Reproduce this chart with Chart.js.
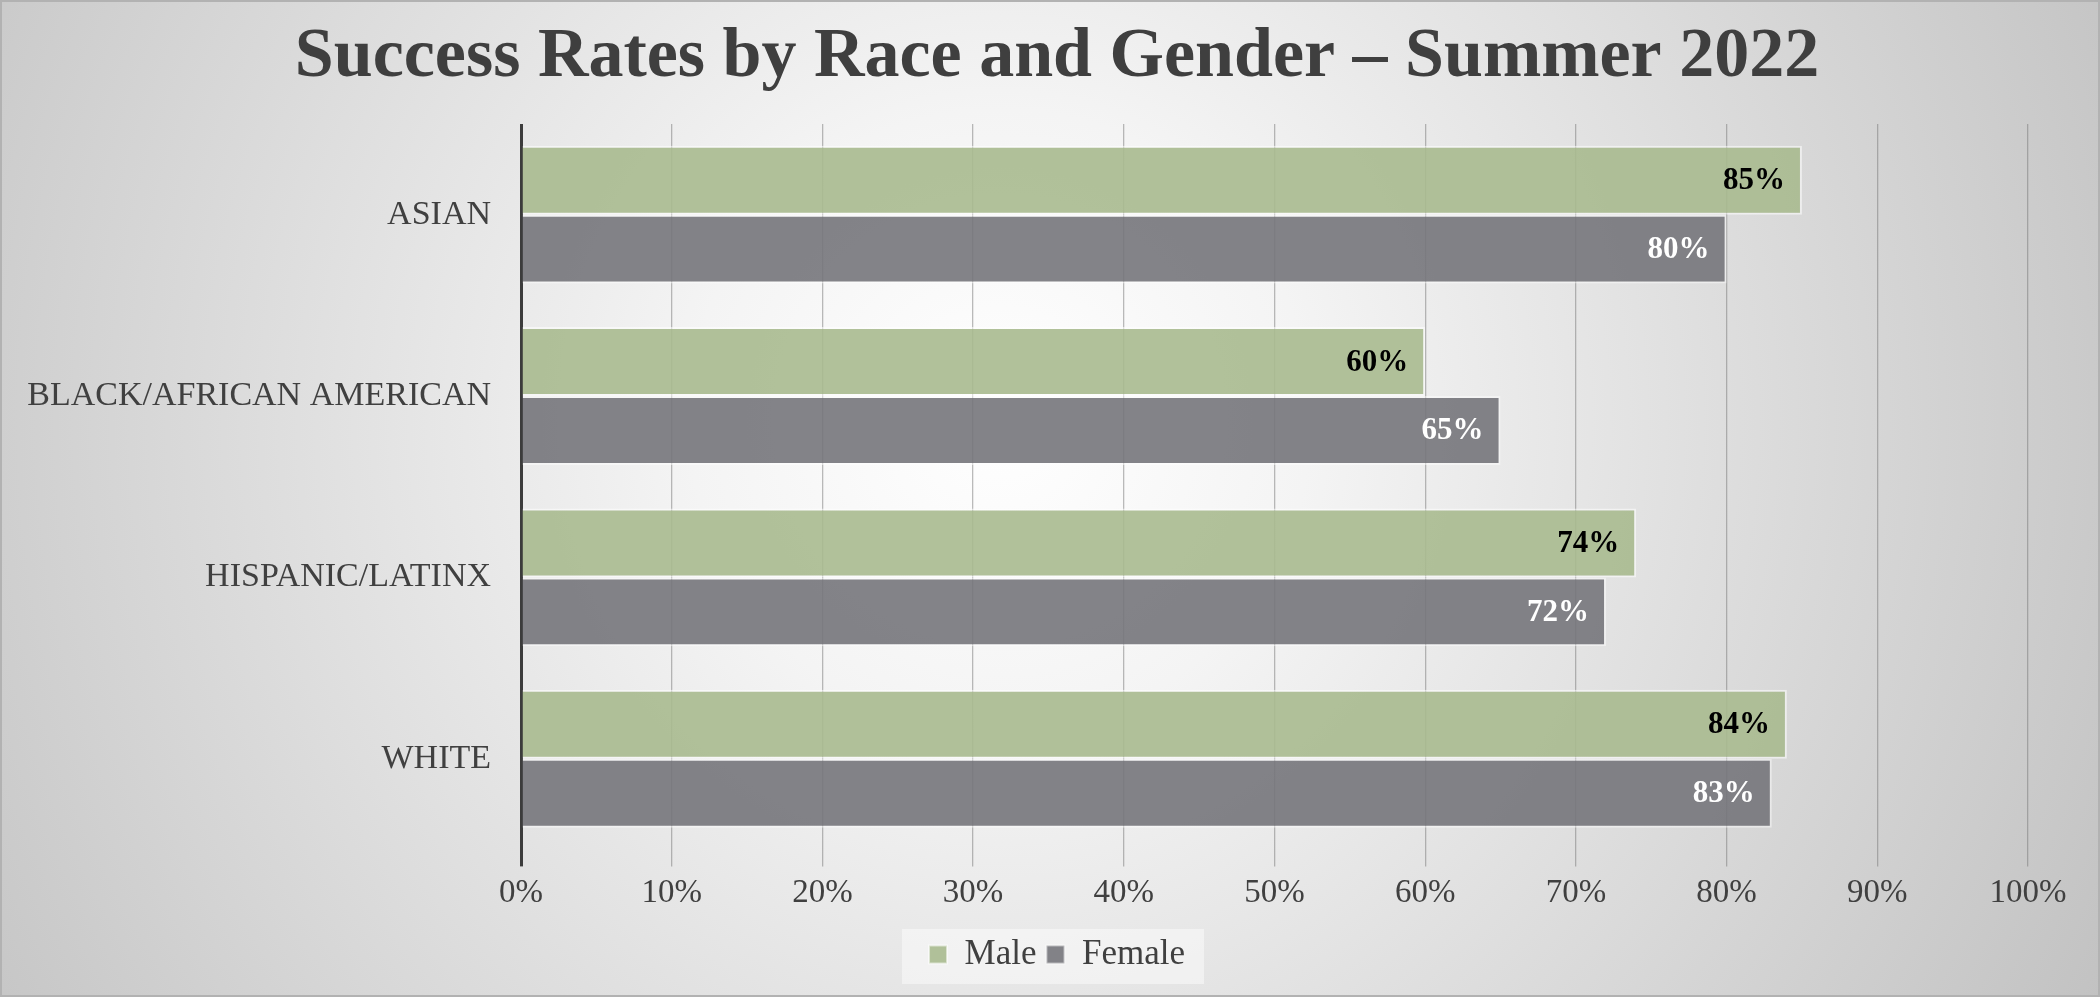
<!DOCTYPE html>
<html>
<head>
<meta charset="utf-8">
<script src="https://cdn.jsdelivr.net/npm/chart.js@4.4.0/dist/chart.umd.min.js"></script>
<style>
  html, body { margin: 0; padding: 0; }
  #wrap {
    width: 2100px;
    height: 997px;
    background: radial-gradient(circle at 1000px 420px, #ffffff 0%, #f4f4f4 25%, #c2c2c2 100%);
  }
</style>
</head>
<body>
<div id="wrap"><canvas id="myChart" width="2100" height="997"></canvas></div>
<script>
const categories = ["ASIAN", "BLACK/AFRICAN AMERICAN", "HISPANIC/LATINX", "WHITE"];
const maleRates = [85, 60, 74, 84];
const femaleRates = [80, 65, 72, 83];
const tickValues = [0, 10, 20, 30, 40, 50, 60, 70, 80, 90, 100];

const serif = "'Liberation Serif', 'DejaVu Serif', serif";

// value labels at the inside end of each bar
const barLabels = {
  id: "barLabels",
  afterDatasetsDraw(chart) {
    const ctx = chart.ctx;
    ctx.save();
    ctx.font = "bold 31px " + serif;
    ctx.textAlign = "right";
    ctx.textBaseline = "middle";
    chart.data.datasets.forEach((ds, i) => {
      const meta = chart.getDatasetMeta(i);
      ctx.fillStyle = i === 0 ? "#000000" : "#ffffff";
      meta.data.forEach((bar, j) => {
        ctx.fillText(ds.data[j] + "%", bar.x - 17, bar.y + 1);
      });
    });
    ctx.restore();
  },
};

// legend backdrop + thin frame
const frame = {
  id: "frame",
  beforeDraw(chart) {
    const ctx = chart.ctx;
    const lg = chart.legend;
    ctx.save();
    ctx.fillStyle = "rgba(255,255,255,0.45)";
    const lw = 302, lh = 55;
    ctx.fillRect(lg.left + lg.width / 2 - lw / 2 - 4, lg.top + 2, lw, lh);
    ctx.strokeStyle = "#b2b2b2";
    ctx.lineWidth = 2;
    ctx.strokeRect(1, 1, chart.width - 2, chart.height - 2);
    ctx.restore();
  },
};

const ctx = document.getElementById("myChart");

new Chart(ctx, {
  type: "bar",
  data: {
    labels: categories,
    datasets: [
      {
        label: "Male",
        data: maleRates,
        backgroundColor: "rgba(168, 186, 143, 0.9)",
        borderColor: "rgba(255, 255, 255, 0.55)",
        borderWidth: 2,
      },
      {
        label: "Female",
        data: femaleRates,
        backgroundColor: "rgba(118, 117, 123, 0.9)",
        borderColor: "rgba(255, 255, 255, 0.45)",
        borderWidth: 2,
      },
    ],
  },
  options: {
    indexAxis: "y",
    responsive: false,
    animation: false,
    devicePixelRatio: 1,
    layout: {
      padding: { left: 14, right: 0, top: 0, bottom: 15 },
    },
    datasets: {
      bar: {
        categoryPercentage: 0.76,
        barPercentage: 1.0,
      },
    },
    scales: {
      x: {
        min: 0,
        max: 100,
        afterBuildTicks: (axis) => {
          axis.ticks = tickValues.map((v) => ({ value: v }));
        },
        afterFit: (axis) => {
          axis.height += 7;
          axis.paddingRight = 72;
        },
        border: { display: false },
        grid: {
          color: (c) => (c.tick && c.tick.value === 0 ? "#3c3c3c" : "rgba(120,120,120,0.5)"),
          lineWidth: (c) => (c.tick && c.tick.value === 0 ? 3 : 1.3),
          tickLength: 17,
        },
        ticks: {
          padding: 7,
          color: "#404040",
          font: { family: serif, size: 33 },
          callback: (v) => v + "%",
        },
      },
      y: {
        afterFit: (axis) => {
          axis.width = 507;
        },
        border: { display: false },
        grid: { display: false },
        ticks: {
          padding: 22,
          color: "#404040",
          font: { family: serif, size: 34 },
        },
      },
    },
    plugins: {
      title: {
        display: true,
        text: "Success Rates by Race and Gender \u2013 Summer 2022",
        color: "#3f3f3f",
        font: { family: serif, size: 70, weight: "bold" },
        padding: { top: 16, bottom: 24 },
      },
      legend: {
        position: "bottom",
        labels: {
          color: "#404040",
          font: { family: serif, size: 35 },
          boxWidth: 18,
          boxHeight: 18,
          padding: 10,
        },
      },
      tooltip: { enabled: false },
    },
  },
  plugins: [frame, barLabels],
});
</script>
</body>
</html>
